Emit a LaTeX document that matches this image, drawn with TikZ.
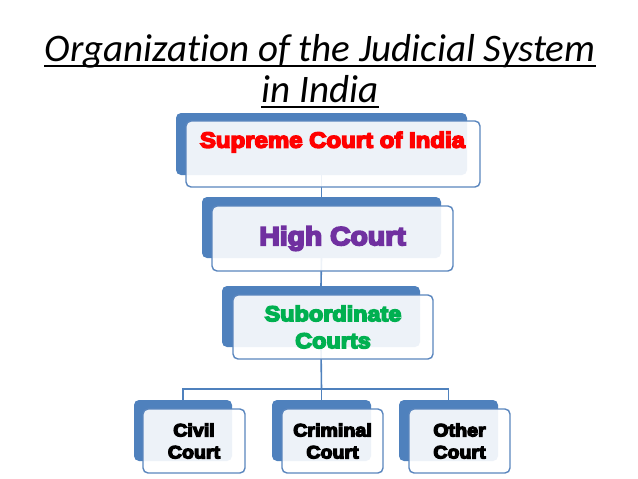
\documentclass[tikz,border=0pt]{standalone}
\usepackage{fontspec}
\usetikzlibrary{fit}
\setmainfont{Carlito}[Ligatures={NoCommon}]
\newfontfamily\blk{Liberation Sans}[UprightFont={* Bold}, FakeStretch=1.09, FakeBold=7]
\definecolor{backblue}{HTML}{4F81BD}
\definecolor{edgeblue}{HTML}{5A86BE}
\definecolor{supred}{HTML}{FF0000}
\definecolor{hcpurple}{HTML}{7030A0}
\definecolor{subgreen}{HTML}{00B050}
\tikzset{
  backbox/.style={fill=backblue, draw=none, rounded corners=5pt, inner sep=0pt},
  frontbox/.style={fill=white, fill opacity=0.9, draw=edgeblue, line width=1.4pt, rounded corners=5pt, inner sep=0pt},
  link/.style={draw=backblue, line width=1.6pt},
  lbl/.style={inner sep=0pt, align=center, font=\blk},
  ttl/.style={inner sep=0pt, anchor=base, font=\fontsize{39}{46}\selectfont\itshape}
}
\begin{document}
\begin{tikzpicture}[x=1pt,y=-1pt]
\useasboundingbox[fill=white] (0,0) rectangle (638,479);
% title
\node[ttl] (t1) at (320,61) {Organization of the Judicial System};
\node[ttl] (t2) at (320,102) {in India};
\draw[line width=1.8pt] ([yshift=-5pt]t1.base west) -- ([yshift=-5pt]t1.base east);
\draw[line width=1.8pt] ([yshift=-5pt]t2.base west) -- ([yshift=-5pt]t2.base east);
% positions
\coordinate (b1a) at (176,113); \coordinate (b1b) at (467,175);
\coordinate (b2a) at (202,197); \coordinate (b2b) at (441,258);
\coordinate (b3a) at (222,286); \coordinate (b3b) at (420,347);
\coordinate (b4a) at (134,400); \coordinate (b4b) at (232,461);
\coordinate (b5a) at (272,400); \coordinate (b5b) at (371,461);
\coordinate (b6a) at (399,400); \coordinate (b6b) at (498,461);
\coordinate (f1a) at (186,121); \coordinate (f1b) at (480,187);
\coordinate (f2a) at (212,206); \coordinate (f2b) at (453,271);
\coordinate (f3a) at (233,295); \coordinate (f3b) at (433,359);
\coordinate (f4a) at (143,409); \coordinate (f4b) at (245,473);
\coordinate (f5a) at (282,409); \coordinate (f5b) at (383,473);
\coordinate (f6a) at (409,409); \coordinate (f6b) at (510,473);
\coordinate (bar) at (321.5,389);
% back boxes
\node[backbox, fit=(b1a)(b1b)] (back1) {};
\node[backbox, fit=(b2a)(b2b)] (back2) {};
\node[backbox, fit=(b3a)(b3b)] (back3) {};
\node[backbox, fit=(b4a)(b4b)] (back4) {};
\node[backbox, fit=(b5a)(b5b)] (back5) {};
\node[backbox, fit=(b6a)(b6b)] (back6) {};
% connectors
\draw[link] (back1.south) -- (back2.north);
\draw[link] (back2.south) -- (back3.north);
\draw[link] (back3.south) -- (bar);
\draw[link] (back4.north) |- (bar) -| (back6.north);
\draw[link] (bar) -- (back5.north);
% front boxes
\node[frontbox, fit=(f1a)(f1b)] (front1) {};
\node[frontbox, fit=(f2a)(f2b)] (front2) {};
\node[frontbox, fit=(f3a)(f3b)] (front3) {};
\node[frontbox, fit=(f4a)(f4b)] (front4) {};
\node[frontbox, fit=(f5a)(f5b)] (front5) {};
\node[frontbox, fit=(f6a)(f6b)] (front6) {};
% labels
\node[lbl, text=supred, font=\blk\fontsize{22}{26}\selectfont] (l1) at (332.5,142) {Supreme Court of India};
\node[lbl, text=hcpurple, font=\blk\fontsize{26}{30}\selectfont] (l2) at (front2.center) {High Court};
\node[lbl, text=subgreen, font=\blk\fontsize{21.5}{27}\selectfont] (l3) at (front3.center) {Subordinate\\Courts};
\node[lbl, text=black, font=\blk\fontsize{18}{22}\selectfont] (l4) at (front4.center) {Civil\\Court};
\node[lbl, text=black, font=\blk\fontsize{18}{22}\selectfont] (l5) at (front5.center) {Criminal\\Court};
\node[lbl, text=black, font=\blk\fontsize{18}{22}\selectfont] (l6) at (front6.center) {Other\\Court};
\end{tikzpicture}
\end{document}
